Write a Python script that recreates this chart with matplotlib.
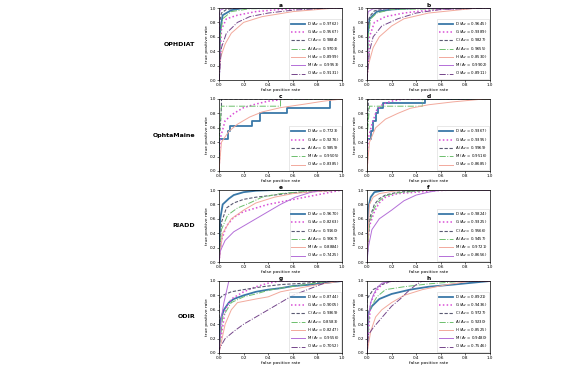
import matplotlib
matplotlib.use("Agg")
import matplotlib.pyplot as plt

# row labels (datasets) and panel letters
datasets = ["OPHDIAT", "OphtaMaine", "RIADD", "ODIR"]
panels = ["a", "b", "c", "d", "e", "f", "g", "h"]

# method names and Az per panel
names7 = ["D", "G", "C", "A", "H", "M", "O"]
names5 = ["D", "G", "A", "M", "O"]
names6 = ["D", "G", "C", "A", "M", "O"]

a_auc = [0.9762, 0.9567, 0.9884, 0.9703, 0.8999, 0.9953, 0.9131]
b_auc = [0.9645, 0.9389, 0.9827, 0.9655, 0.8530, 0.9902, 0.8911]
c_auc = [0.7723, 0.9276, 0.9859, 0.9505, 0.8385]
d_auc = [0.9367, 0.9395, 0.9969, 0.9516, 0.8685]
e_auc = [0.9670, 0.8263, 0.9160, 0.9067, 0.8884, 0.7425]
f_auc = [0.9824, 0.9325, 0.9566, 0.9457, 0.9721, 0.8656]
g_auc = [0.8744, 0.9005, 0.9369, 0.8583, 0.8247, 0.9556, 0.7052]
h_auc = [0.8921, 0.9436, 0.9727, 0.9230, 0.8525, 0.9480, 0.7546]

# ROC curves (fpr, tpr), one list per method
a_fpr = [[0, 0.01, 0.03, 0.1, 0.2, 1],
         [0, 0.02, 0.06, 0.15, 0.3, 0.5, 0.8, 1],
         [0, 0.005, 0.02, 0.06, 0.15, 1],
         [0, 0.01, 0.03, 0.1, 0.25, 1],
         [0, 0.01, 0.05, 0.1, 0.2, 0.35, 0.6, 0.95, 1],
         [0, 0.002, 0.01, 0.05, 1],
         [0, 0.02, 0.06, 0.15, 0.25, 0.4, 0.6, 0.9, 1]]
a_tpr = [[0, 0.7, 0.9, 0.97, 1.0, 1],
         [0, 0.7, 0.85, 0.9, 0.95, 0.98, 1.0, 1],
         [0, 0.8, 0.93, 0.98, 1.0, 1],
         [0, 0.6, 0.85, 0.95, 0.99, 1],
         [0, 0.3, 0.5, 0.65, 0.8, 0.88, 0.95, 1.0, 1],
         [0, 0.9, 0.97, 1.0, 1],
         [0, 0.45, 0.65, 0.8, 0.88, 0.93, 0.97, 1.0, 1]]

b_fpr = [[0, 0.005, 0.02, 0.08, 0.2, 0.4, 1],
         [0, 0.02, 0.06, 0.15, 0.3, 0.5, 0.8, 1],
         [0, 0.005, 0.02, 0.06, 0.15, 1],
         [0, 0.01, 0.03, 0.08, 0.2, 1],
         [0, 0.01, 0.05, 0.1, 0.2, 0.3, 0.5, 0.9, 1],
         [0, 0.002, 0.01, 0.05, 1],
         [0, 0.02, 0.05, 0.12, 0.25, 0.4, 0.6, 1]]
b_tpr = [[0, 0.6, 0.85, 0.95, 0.98, 1.0, 1],
         [0, 0.6, 0.8, 0.88, 0.93, 0.97, 1.0, 1],
         [0, 0.7, 0.88, 0.96, 0.99, 1],
         [0, 0.6, 0.85, 0.93, 0.98, 1],
         [0, 0.2, 0.45, 0.6, 0.75, 0.85, 0.93, 1.0, 1],
         [0, 0.85, 0.95, 0.99, 1],
         [0, 0.4, 0.6, 0.75, 0.85, 0.93, 0.98, 1]]

c_fpr = [[0, 0, 0.07, 0.07, 0.09, 0.09, 0.27, 0.27, 0.33, 0.33, 0.55, 0.55, 0.9, 0.9, 1],
         [0, 0.01, 0.05, 0.12, 0.2, 0.3, 0.4, 0.55, 1],
         [0, 0, 0.01, 0.02, 0.02, 1],
         [0, 0, 0.02, 0.5, 0.5, 1],
         [0, 0.02, 0.08, 0.15, 0.25, 0.35, 0.5, 0.7, 0.85, 1]]
c_tpr = [[0, 0.44, 0.44, 0.56, 0.56, 0.62, 0.62, 0.69, 0.69, 0.81, 0.81, 0.88, 0.88, 1.0, 1],
         [0, 0.45, 0.7, 0.8, 0.88, 0.93, 0.97, 1.0, 1],
         [0, 0.45, 0.6, 0.9, 1.0, 1],
         [0, 0.45, 0.9, 0.9, 1.0, 1],
         [0, 0.4, 0.55, 0.65, 0.75, 0.82, 0.88, 0.93, 0.97, 1]]

d_fpr = [[0, 0, 0.03, 0.03, 0.05, 0.05, 0.07, 0.07, 0.09, 0.09, 0.13, 0.13, 0.47, 0.47, 1],
         [0, 0.01, 0.04, 0.08, 0.13, 0.2, 0.3, 1],
         [0, 0, 0.01, 0.01, 1],
         [0, 0, 0.02, 0.45, 0.45, 1],
         [0, 0.02, 0.07, 0.15, 0.25, 0.35, 0.5, 0.7, 0.95, 1]]
d_tpr = [[0, 0.44, 0.44, 0.56, 0.56, 0.69, 0.69, 0.81, 0.81, 0.88, 0.88, 0.94, 0.94, 1.0, 1],
         [0, 0.45, 0.65, 0.85, 0.93, 0.97, 1.0, 1],
         [0, 0.5, 0.9, 1.0, 1],
         [0, 0.45, 0.9, 0.9, 1.0, 1],
         [0, 0.4, 0.6, 0.72, 0.8, 0.87, 0.92, 0.96, 1.0, 1]]

e_fpr = [[0, 0.01, 0.03, 0.08, 0.12, 0.2, 0.3, 0.45, 1],
         [0, 0.02, 0.06, 0.12, 0.2, 0.3, 0.4, 0.55, 0.7, 0.85, 1],
         [0, 0.02, 0.06, 0.12, 0.2, 0.3, 0.45, 0.6, 0.8, 1],
         [0, 0.02, 0.07, 0.15, 0.25, 0.35, 0.5, 0.7, 0.9, 1],
         [0, 0.03, 0.1, 0.2, 0.3, 0.45, 0.6, 0.8, 1],
         [0, 0.01, 0.05, 0.12, 0.2, 0.3, 0.4, 0.5, 0.62, 0.75, 0.85, 1]]
e_tpr = [[0, 0.6, 0.8, 0.88, 0.93, 0.97, 0.99, 1.0, 1],
         [0, 0.3, 0.5, 0.62, 0.7, 0.75, 0.8, 0.85, 0.9, 0.95, 1],
         [0, 0.55, 0.75, 0.82, 0.87, 0.9, 0.93, 0.96, 0.98, 1],
         [0, 0.45, 0.65, 0.75, 0.82, 0.9, 0.95, 0.98, 1.0, 1],
         [0, 0.4, 0.6, 0.72, 0.82, 0.9, 0.95, 0.98, 1],
         [0, 0.15, 0.3, 0.42, 0.5, 0.6, 0.7, 0.8, 0.9, 0.97, 1.0, 1]]

f_fpr = [[0, 0.01, 0.03, 0.06, 0.15, 1],
         [0, 0.0, 0.02, 0.06, 0.1, 0.15, 0.25, 0.4, 0.55, 0.7, 1],
         [0, 0.02, 0.06, 0.1, 0.15, 0.25, 0.5, 1],
         [0, 0.02, 0.06, 0.1, 0.15, 0.25, 0.5, 1],
         [0, 0.02, 0.05, 0.1, 0.2, 0.3, 1],
         [0, 0.01, 0.04, 0.1, 0.2, 0.3, 0.4, 0.5, 0.6, 1]]
f_tpr = [[0, 0.75, 0.9, 0.97, 1.0, 1],
         [0, 0.2, 0.5, 0.7, 0.82, 0.9, 0.95, 0.97, 0.99, 1.0, 1],
         [0, 0.6, 0.8, 0.88, 0.93, 0.97, 1.0, 1],
         [0, 0.55, 0.75, 0.85, 0.92, 0.96, 1.0, 1],
         [0, 0.8, 0.9, 0.95, 0.98, 1.0, 1],
         [0, 0.2, 0.45, 0.6, 0.72, 0.85, 0.93, 0.97, 1.0, 1]]

g_fpr = [[0, 0.01, 0.04, 0.08, 0.12, 0.2, 0.3, 0.4, 0.5, 0.6, 0.75, 0.9, 1],
         [0, 0.05, 0.1, 0.2, 0.3, 0.4, 0.5, 1],
         [0, 0.0, 0.03, 0.1, 0.2, 0.35, 0.5, 0.7, 0.95, 1],
         [0, 0.03, 0.1, 0.2, 0.3, 0.4, 0.5, 0.7, 0.9, 1],
         [0, 0.05, 0.1, 0.15, 0.3, 0.4, 0.5, 0.65, 0.8, 1],
         [0, 0.02, 0.04, 0.06, 0.08, 1],
         [0, 0.0, 0.05, 0.12, 0.2, 0.3, 0.4, 0.5, 0.6, 0.75, 0.9, 1]]
g_tpr = [[0, 0.45, 0.6, 0.7, 0.75, 0.8, 0.85, 0.88, 0.9, 0.93, 0.95, 0.98, 1],
         [0, 0.6, 0.75, 0.85, 0.92, 0.97, 1.0, 1],
         [0, 0.75, 0.8, 0.85, 0.88, 0.92, 0.95, 0.97, 1.0, 1],
         [0, 0.5, 0.7, 0.78, 0.82, 0.87, 0.9, 0.95, 1.0, 1],
         [0, 0.4, 0.6, 0.7, 0.75, 0.78, 0.85, 0.9, 0.95, 1],
         [0, 0.5, 0.7, 0.85, 1.0, 1],
         [0, 0.05, 0.2, 0.3, 0.4, 0.5, 0.6, 0.7, 0.8, 0.9, 1.0, 1]]

h_fpr = [[0, 0.01, 0.04, 0.1, 0.2, 0.35, 0.5, 0.7, 1],
         [0, 0.03, 0.07, 0.12, 0.2, 1],
         [0, 0.0, 0.05, 0.12, 0.2, 1],
         [0, 0.02, 0.08, 0.15, 0.3, 0.5, 0.8, 1],
         [0, 0.03, 0.07, 0.12, 0.2, 0.3, 0.45, 0.65, 0.85, 1],
         [0, 0.01, 0.03, 0.05, 0.08, 0.12, 0.2, 1],
         [0, 0.01, 0.05, 0.1, 0.15, 0.2, 0.27, 0.33, 0.4, 0.45, 1]]
h_tpr = [[0, 0.55, 0.65, 0.75, 0.82, 0.88, 0.92, 0.95, 1],
         [0, 0.7, 0.85, 0.95, 1.0, 1],
         [0, 0.75, 0.88, 0.95, 1.0, 1],
         [0, 0.6, 0.78, 0.88, 0.92, 0.96, 1.0, 1],
         [0, 0.3, 0.5, 0.6, 0.7, 0.8, 0.88, 0.95, 1.0, 1],
         [0, 0.5, 0.7, 0.8, 0.9, 0.97, 1.0, 1],
         [0, 0.25, 0.35, 0.45, 0.55, 0.65, 0.75, 0.85, 0.95, 1.0, 1]]

# line styles, used in legend order
styles = [dict(color="#3a78a8", ls="-", lw=1.3),
          dict(color="#d94fd6", ls=(0, (1, 1.5)), lw=1.1),
          dict(color="#5a5a72", ls=(0, (3, 1.5)), lw=0.8),
          dict(color="#6cbf6c", ls="-.", lw=0.7),
          dict(color="#f2a99c", ls="-", lw=0.7),
          dict(color="#b46fd8", ls="-", lw=0.7),
          dict(color="#74458a", ls="-.", lw=0.7)]

panel_data = [
    (names7, a_auc, a_fpr, a_tpr), (names7, b_auc, b_fpr, b_tpr),
    (names5, c_auc, c_fpr, c_tpr), (names5, d_auc, d_fpr, d_tpr),
    (names6, e_auc, e_fpr, e_tpr), (names6, f_auc, f_fpr, f_tpr),
    (names7, g_auc, g_fpr, g_tpr), (names7, h_auc, h_fpr, h_tpr),
]

W, H = 570, 368
fig = plt.figure(figsize=(W / 100, H / 100), dpi=100)

col_x = [219, 367]
row_top = [8, 99, 190, 281]
ax_w, ax_h = 123, 72
ticks = [0.0, 0.2, 0.4, 0.6, 0.8, 1.0]

for i, (names, auc, fpr, tpr) in enumerate(panel_data):
    r, c = divmod(i, 2)
    ax = fig.add_axes([col_x[c] / W, 1 - (row_top[r] + ax_h) / H, ax_w / W, ax_h / H])
    for j, name in enumerate(names):
        ax.plot(fpr[j], tpr[j], label=f"{name} (A$_z$ = {auc[j]:.4f})", **styles[j])
    ax.set_xlim(0, 1)
    ax.set_ylim(0, 1)
    ax.set_xticks(ticks)
    ax.set_yticks(ticks)
    ax.tick_params(labelsize=3.0, length=1.2, width=0.4, pad=0.8)
    for s in ax.spines.values():
        s.set_linewidth(0.5)
    ax.set_xlabel("false positive rate", fontsize=3.2, labelpad=0.6)
    ax.set_ylabel("true positive rate", fontsize=3.2, labelpad=0.8)
    ax.set_title(panels[i], fontsize=4.2, fontweight="bold", pad=1.0)
    leg = ax.legend(loc="lower right", fontsize=2.8, handlelength=3.6,
                    labelspacing=0.18, borderpad=0.35, handletextpad=0.5,
                    frameon=True, fancybox=False, borderaxespad=0.3)
    leg.get_frame().set_linewidth(0.4)
    if c == 0:
        fig.text(195 / W, 1 - (row_top[r] + 36) / H, datasets[r], fontsize=4.5,
                 fontweight="bold", ha="right", va="center")

fig.savefig("out.png", dpi=100)
